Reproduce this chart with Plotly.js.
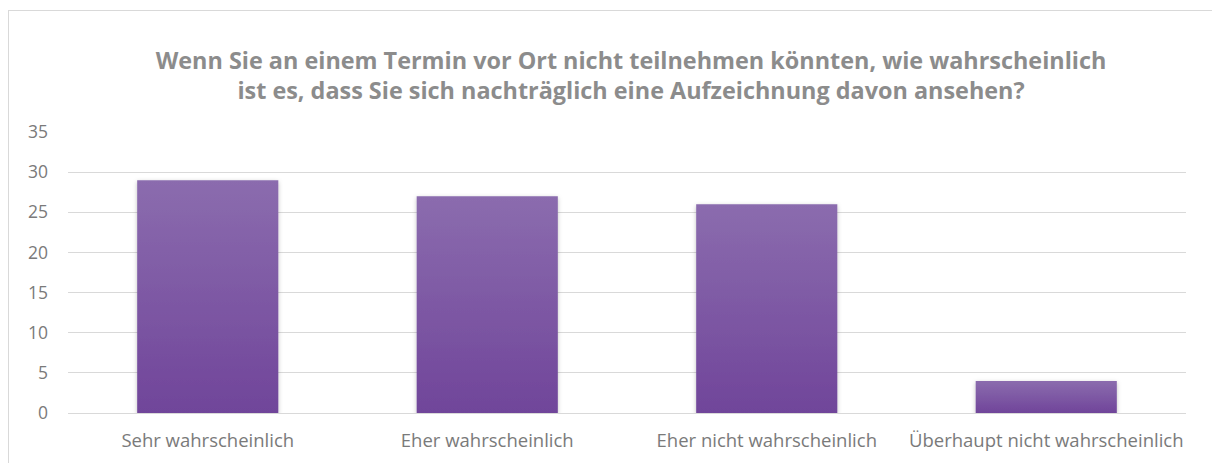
<!DOCTYPE html>
<html>
<head>
<meta charset="utf-8">
<script src="https://cdn.plot.ly/plotly-3.0.1.min.js"></script>
<style>
  html, body { margin: 0; padding: 0; background: #ffffff; overflow: hidden; }
  #frame { position: absolute; left: 8px; top: 10px; width: 1220px; height: 470px; border: 1px solid #d9d9d9; box-sizing: border-box; }
  #chart { position: absolute; left: 0; top: 0; width: 1212px; height: 463px; }
</style>
</head>
<body>
<div id="frame"></div>
<div id="chart"></div>
<script>
const categories = ["Sehr wahrscheinlich", "Eher wahrscheinlich", "Eher nicht wahrscheinlich", "Überhaupt nicht wahrscheinlich"];
const values = [29, 27, 26, 4];
const yTicks = [0, 5, 10, 15, 20, 25, 30, 35];
const titleText = "Wenn Sie an einem Termin vor Ort nicht teilnehmen könnten, wie wahrscheinlich<br>ist es, dass Sie sich nachträglich eine Aufzeichnung davon ansehen?";

const trace = {
  type: "bar",
  x: categories,
  y: values,
  marker: { color: "#7d55a6", line: { width: 0 } },
  hoverinfo: "x+y"
};

const layout = {
  width: 1212,
  height: 463,
  paper_bgcolor: "rgba(0,0,0,0)",
  plot_bgcolor: "rgba(0,0,0,0)",
  margin: { l: 68, r: 26, t: 132, b: 50 },
  bargap: 0.495,
  showlegend: false,
  title: {
    text: titleText,
    x: 0.5036, xref: "paper",
    y: 0.852, yref: "container", yanchor: "middle",
    font: { family: "Open Sans, sans-serif", size: 23.4, color: "#8c8c8c", weight: "bold" }
  },
  xaxis: {
    type: "category",
    showgrid: false,
    showline: false,
    zeroline: false,
    ticks: "",
    ticklabelstandoff: 14,
    tickfont: { family: "Open Sans, sans-serif", size: 18.5, color: "#7a7a7a" }
  },
  yaxis: {
    range: [0, 35],
    tickvals: yTicks,
    showgrid: true,
    gridcolor: "#d9d9d9",
    gridwidth: 1,
    zeroline: true,
    zerolinecolor: "#d9d9d9",
    zerolinewidth: 1,
    showline: false,
    ticks: "",
    ticklabelstandoff: 19,
    tickfont: { family: "Open Sans, sans-serif", size: 17.5, color: "#7a7a7a" },
    fixedrange: true
  }
};

Plotly.newPlot("chart", [trace], layout, { displayModeBar: false, staticPlot: true }).then(function (gd) {
  const svg = gd.querySelector("svg.main-svg");
  const NS = "http://www.w3.org/2000/svg";
  let defs = svg.querySelector("defs");
  if (!defs) { defs = document.createElementNS(NS, "defs"); svg.insertBefore(defs, svg.firstChild); }
  const grad = document.createElementNS(NS, "linearGradient");
  grad.setAttribute("id", "barGrad");
  grad.setAttribute("x1", "0"); grad.setAttribute("y1", "0");
  grad.setAttribute("x2", "0"); grad.setAttribute("y2", "1");
  [["0", "#8b6cae"], ["1", "#70459a"]].forEach(function (s) {
    const st = document.createElementNS(NS, "stop");
    st.setAttribute("offset", s[0]); st.setAttribute("stop-color", s[1]);
    grad.appendChild(st);
  });
  defs.appendChild(grad);
  const filt = document.createElementNS(NS, "filter");
  filt.setAttribute("id", "barShadow");
  filt.setAttribute("x", "-10%"); filt.setAttribute("y", "-10%");
  filt.setAttribute("width", "120%"); filt.setAttribute("height", "125%");
  const ds = document.createElementNS(NS, "feDropShadow");
  ds.setAttribute("dx", "0"); ds.setAttribute("dy", "1.5");
  ds.setAttribute("stdDeviation", "2"); ds.setAttribute("flood-color", "#000000");
  ds.setAttribute("flood-opacity", "0.25");
  filt.appendChild(ds);
  defs.appendChild(filt);
  gd.querySelectorAll(".barlayer .point path").forEach(function (p) {
    p.style.fill = "url(#barGrad)";
    p.setAttribute("filter", "url(#barShadow)");
  });
});
</script>
</body>
</html>
